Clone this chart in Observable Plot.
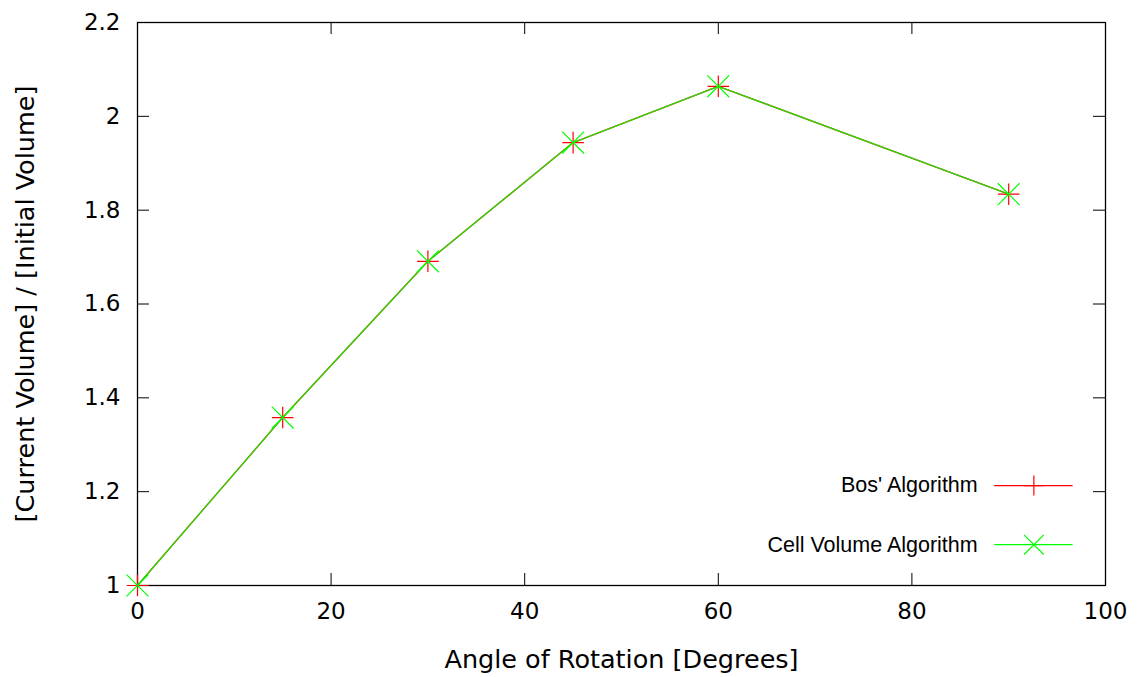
<!DOCTYPE html>
<html>
<head>
<meta charset="utf-8">
<script src="https://cdn.jsdelivr.net/npm/d3@7"></script>
<script src="https://cdn.jsdelivr.net/npm/@observablehq/plot@0.6"></script>
<style>
  body { margin: 0; background: #fff; }
  #chart svg { display: block; }
</style>
</head>
<body>
<div id="chart"></div>
<script>
const angles = [0, 15, 30, 45, 60, 90];
const bosValues = [1.0, 1.358, 1.691, 1.944, 2.064, 1.834];
const cellValues = [1.0, 1.358, 1.691, 1.944, 2.064, 1.834];
const xTicks = [0, 20, 40, 60, 80, 100];
const yTicks = [1, 1.2, 1.4, 1.6, 1.8, 2, 2.2];
const seriesNames = ["Bos' Algorithm", "Cell Volume Algorithm"];
const seriesColors = ["#ff0000", "#00ff00"];
const xLabel = "Angle of Rotation [Degrees]";
const yLabel = "[Current Volume] / [Initial Volume]";

const bos = angles.map((a, i) => ({x: a, y: bosValues[i]}));
const cell = angles.map((a, i) => ({x: a, y: cellValues[i]}));

// legend entries placed in data space inside the frame
const legendY = [1.213, 1.087];
const legend = seriesNames.map((n, i) => ({name: n, color: seriesColors[i], y: legendY[i]}));
const legendTextX = 86.8, legendLineX1 = 88.5, legendLineX2 = 96.6, legendMarkX = 92.6;

const W = 1141, H = 677;
const mt = 22, mb = 92, ml = 137, mr = 36;
const innerH = H - mt - mb, innerW = W - ml - mr;
const tk = 12;

const chart = Plot.plot({
  width: W,
  height: H,
  marginTop: mt,
  marginBottom: mb,
  marginLeft: ml,
  marginRight: mr,
  style: {fontFamily: "DejaVu Sans", background: "#fff", color: "#000"},
  x: {domain: [0, 100]},
  y: {domain: [1, 2.2]},
  marks: [
    Plot.axisX(xTicks, {tickSize: 0, tickPadding: 17, fontSize: 23, label: null, tickFormat: d => String(d)}),
    Plot.axisY(yTicks, {tickSize: 0, tickPadding: 17, fontSize: 23, label: null, tickFormat: d => String(d)}),
    Plot.text([xLabel], {text: d => d, frameAnchor: "bottom", textAnchor: "middle", dy: 82, fontSize: 25.5, fill: "#000"}),
    Plot.text([yLabel], {text: d => d, frameAnchor: "left", textAnchor: "middle", rotate: -90, dx: -112, fontSize: 25.5, fill: "#000"}),
    // inward ticks, mirrored
    Plot.tickX(xTicks, {x: d => d, insetTop: innerH - tk, stroke: "#000", strokeWidth: 1}),
    Plot.tickX(xTicks, {x: d => d, insetBottom: innerH - tk, stroke: "#000", strokeWidth: 1}),
    Plot.tickY(yTicks, {y: d => d, insetRight: innerW - tk, stroke: "#000", strokeWidth: 1}),
    Plot.tickY(yTicks, {y: d => d, insetLeft: innerW - tk, stroke: "#000", strokeWidth: 1}),
    Plot.frame({stroke: "#000", strokeWidth: 1.3}),
    // series
    Plot.line(bos, {x: "x", y: "y", stroke: seriesColors[0], strokeWidth: 1.3}),
    Plot.dot(bos, {x: "x", y: "y", symbol: "plus", r: 7, stroke: seriesColors[0], strokeWidth: 1.2}),
    Plot.line(cell, {x: "x", y: "y", stroke: seriesColors[1], strokeWidth: 1.3, strokeOpacity: 0.85}),
    Plot.dot(cell, {x: "x", y: "y", symbol: "times", r: 10, stroke: seriesColors[1], strokeWidth: 1.2}),
    // legend
    Plot.text(legend, {x: () => legendTextX, y: "y", text: "name", textAnchor: "end", fontSize: 21.5, fontFamily: "Liberation Sans", fill: "#000"}),
    Plot.link(legend, {x1: () => legendLineX1, x2: () => legendLineX2, y1: "y", y2: "y", stroke: "color", strokeWidth: 1.2}),
    Plot.dot([legend[0]], {x: () => legendMarkX, y: "y", symbol: "plus", r: 6.5, stroke: "color", strokeWidth: 1.2}),
    Plot.dot([legend[1]], {x: () => legendMarkX, y: "y", symbol: "times", r: 9, stroke: "color", strokeWidth: 1.2})
  ]
});
document.getElementById("chart").appendChild(chart);
</script>
</body>
</html>
